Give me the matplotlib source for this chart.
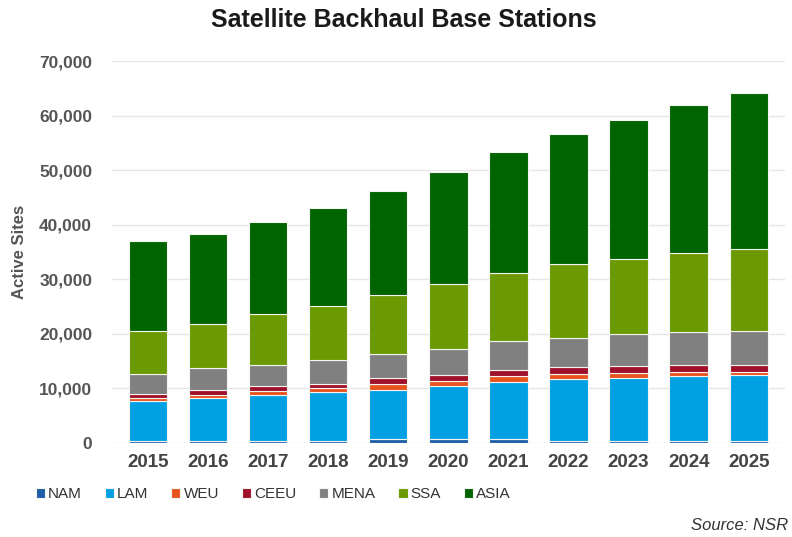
import matplotlib.pyplot as plt
import numpy as np
from matplotlib.ticker import FuncFormatter

plt.rcParams['font.family'] = ['Liberation Sans', 'DejaVu Sans']

years = ['2015', '2016', '2017', '2018', '2019', '2020', '2021', '2022', '2023', '2024', '2025']
regions = ['NAM', 'LAM', 'WEU', 'CEEU', 'MENA', 'SSA', 'ASIA']

nam = [300, 300, 300, 300, 700, 700, 700, 300, 300, 300, 300]
lam = [7400, 7900, 8500, 9000, 9000, 9700, 10500, 11400, 11700, 12000, 12200]
weu = [500, 600, 700, 800, 1100, 1000, 1100, 1000, 800, 800, 600]
ceeu = [800, 900, 1000, 800, 1100, 1100, 1100, 1300, 1300, 1200, 1200]
mena = [3600, 4000, 3800, 4300, 4500, 4800, 5300, 5300, 5800, 6000, 6200]
ssa = [7900, 8200, 9300, 9900, 10700, 11800, 12400, 13600, 13900, 14500, 15000]
asia = [16500, 16400, 16900, 17900, 19100, 20600, 22200, 23700, 25400, 27100, 28600]

colors = ['#1f5fa6', '#00a0e3', '#e8541e', '#a0102a', '#808080', '#6a9a00', '#006400']

fig = plt.figure(figsize=(7.92, 5.37), dpi=100)
ax = fig.add_axes([0.141, 0.175, 0.85, 0.711])

x = np.arange(len(years))
bottom = np.zeros(len(years))
for name, vals, c in zip(regions, [nam, lam, weu, ceeu, mena, ssa, asia], colors):
    ax.bar(x, vals, 0.64, bottom=bottom, color=c, edgecolor='#f4f4f0',
           linewidth=0.8, label=name, zorder=3)
    bottom += np.array(vals)

ax.set_ylim(0, 70000)
ax.set_xlim(-0.6, len(years) - 0.4)
ax.set_yticks(range(0, 70001, 10000))
ax.yaxis.set_major_formatter(FuncFormatter(lambda v, p: f'{int(v):,}'))
ax.set_xticks(x)
ax.set_xticklabels(years)
ax.grid(axis='y', color='#e6e6e6', linewidth=1, zorder=0)
for s in ax.spines.values():
    s.set_visible(False)
ax.tick_params(axis='y', length=0, labelsize=12.5, colors='#555555', pad=14)
ax.tick_params(axis='x', length=0, labelsize=13.5, colors='#444444', pad=8)
for lab in ax.get_xticklabels() + ax.get_yticklabels():
    lab.set_fontweight('bold')
ax.set_ylabel('Active Sites', fontsize=12, fontweight='bold', color='#555555', labelpad=9)

fig.text(0.51, 0.962, 'Satellite Backhaul Base Stations', ha='center', va='center',
         fontsize=18, fontweight='bold', color='#1a1a1a')

fig.legend(loc='center', bbox_to_anchor=(0.345, 0.08), ncol=7, frameon=False,
           fontsize=11, handlelength=0.6, handleheight=0.6, handletextpad=0.2,
           columnspacing=1.5, labelcolor='#333333')

fig.text(0.995, 0.022, 'Source: NSR', ha='right', va='center', fontsize=12,
         style='italic', color='#333333')

fig.savefig('out.png', dpi=100)
